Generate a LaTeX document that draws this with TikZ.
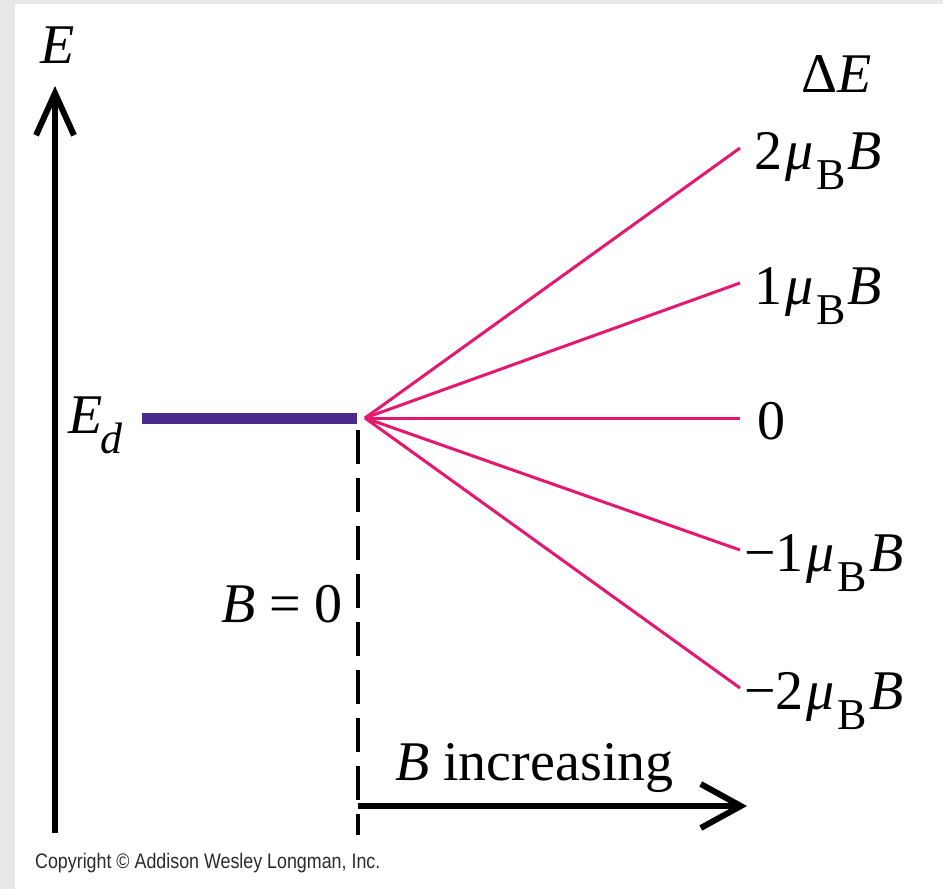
\documentclass[tikz,border=0pt]{standalone}
\usepackage{fontspec}
\setmainfont{Liberation Serif}
\setsansfont{Liberation Sans}
\usetikzlibrary{arrows.meta}
\definecolor{framegray}{HTML}{E8E8E8}
\definecolor{splitpink}{HTML}{E4186F}
\definecolor{levelpurple}{HTML}{4B2A8E}
\definecolor{notegray}{HTML}{2A2A2A}
\newcommand{\bigfont}{\fontsize{56}{60}\selectfont}
\newcommand{\subfont}{\fontsize{44}{44}\selectfont}
\newcommand{\muB}{\kern3pt\textit{μ}\kern3pt\raisebox{-20pt}{\subfont B}\kern2pt\textit{B}}
\tikzset{
  lbl/.style      ={font=\bigfont, inner sep=0pt},
  axisarrow/.style={line width=6pt, -{Straight Barb[length=40pt, width=44pt]}},
  eaxis/.style    ={line width=6pt, -{Straight Barb[length=42pt, width=38pt]}},
  level/.style    ={levelpurple, line width=11pt},
  split/.style    ={splitpink, line width=3pt},
  zeroline/.style ={line width=3.5pt, dash pattern=on 34pt off 14pt},
  tickline/.style ={line width=3.5pt},
  note/.style     ={font=\sffamily\fontsize{21}{22}\selectfont, text=notegray,
                    inner sep=0pt, xscale=0.85},
}

\begin{document}
\begin{tikzpicture}[x=1pt, y=-1pt]

% --- frame ---
\fill[framegray] (0,0) rectangle (943,889);
\fill[white] (15,4) rectangle (943,889);
\useasboundingbox (0,0) rectangle (943,889);

% --- energy axis ---
\coordinate (ebot) at (55,833);
\coordinate (etop) at (55,86);
\draw[eaxis] (ebot) -- (etop);
\node[lbl] (elabel) at (58,45) {\textit{E}};
\node[lbl] (delabel) at (837,74) {Δ\textit{E}};

% --- degenerate level ---
\node[lbl, anchor=base west] (ed) at (68,433)
     {\textit{E}\kern-2pt\raisebox{-20pt}{\subfont\textit{d}}};
\coordinate (lvlstart) at (142,418);
\coordinate (lvlend) at (357,418);
\draw[level] (lvlstart) -- (lvlend);

% --- Zeeman splitting ---
\coordinate (split) at (365,418);
\foreach \y/\nm/\dx/\txt in {148/p2/754/{2\muB}, 283/p1/754/{1\muB},
                             418/z0/757/{0}, 550/m1/744/{−1\muB},
                             688/m2/744/{−2\muB}} {
  \coordinate (end\nm) at (740,\y);
  \node[lbl, anchor=base west] (lab\nm) at (\dx,\y+21) {\txt};
  \draw[split] (split) -- (end\nm);
}

% --- B = 0 marker and field arrow ---
\coordinate (bzero) at (358,430);
\coordinate (bstart) at (358,806);
\coordinate (btick) at (358,835);
\coordinate (bend) at (747,806);
\draw[zeroline] (bzero) -- ([yshift=-14pt]bstart);
\draw[tickline] ([yshift=-14pt]bstart) -- (btick);
\draw[axisarrow] (bstart) -- (bend);
\node[lbl, anchor=base east] (bzlabel) at (343,622) {\textit{B} = 0};
\node[lbl, anchor=base west] (binc) at (395,780) {\textit{B} increasing};

% --- credit line ---
\node[note, anchor=west] (credit) at (35,863) {Copyright © Addison Wesley Longman, Inc.};

\end{tikzpicture}
\end{document}
